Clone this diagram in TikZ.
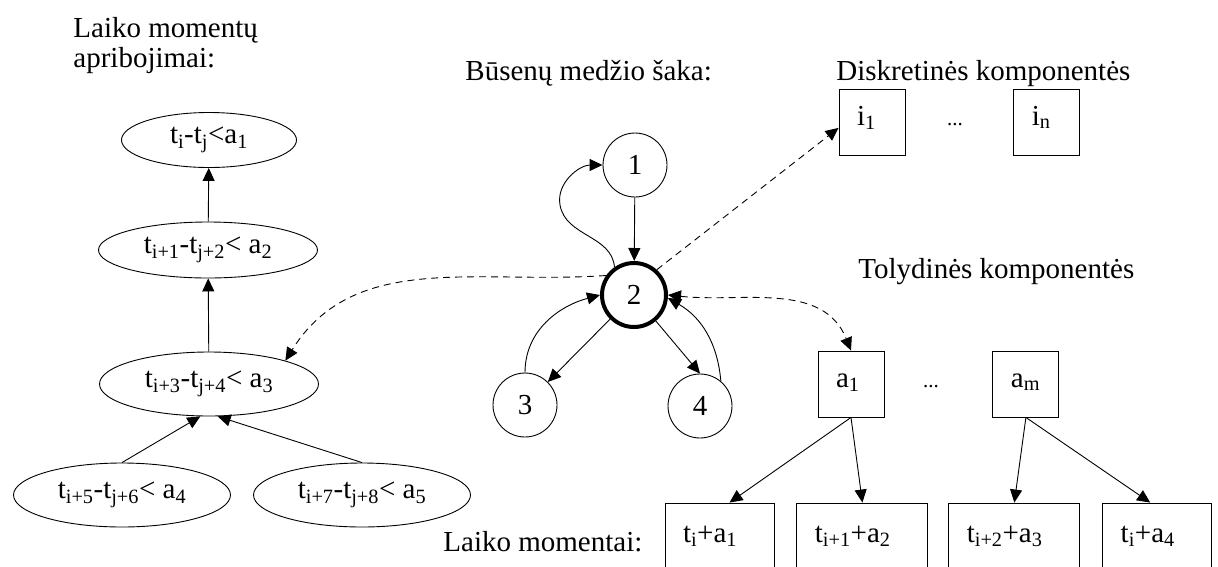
\documentclass[tikz,border=0pt]{standalone}
\usepackage{fontspec}
\setmainfont{Liberation Serif}
\usepackage{tikz}
\usetikzlibrary{positioning,arrows.meta,shapes.geometric,calc}

\begin{document}
\begin{tikzpicture}[
    x=1pt, y=1pt, line width=0.9pt,
    >={Triangle[length=13pt,width=12pt]},
    every node/.style={font=\fontsize{29}{30}\selectfont},
    heading/.style={inner sep=0pt, anchor=base west},
    cond/.style={ellipse, draw, inner sep=2pt, minimum width=219pt, minimum height=64pt},
    state/.style={circle, draw, inner sep=0pt, minimum size=64pt},
    comp/.style={rectangle, draw, inner xsep=18pt, inner ysep=0pt, text width=30pt,
                 text height=36pt, text depth=30pt, align=left},
    moment/.style={comp, text height=39pt, text depth=41pt},
    dots/.style={inner sep=0pt, anchor=base, font=\fontsize{21}{24}\selectfont},
    link/.style={dash pattern=on 7pt off 5pt}
]
    \useasboundingbox (0,0) rectangle (1218,-566);
    \clip (0,0) rectangle (1218,-566);

    \node[heading, align=left, anchor=north west] (tLimits) at (73,-17) {Laiko momentų\\apribojimai:};
    \node[heading] (tBranch) at (465,-80) {Būsenų medžio šaka:};
    \node[heading] (tDisc) at (836,-80) {Diskretinės komponentės};
    \node[heading] (tCont) at (858,-278) {Tolydinės komponentės};
    \node[heading] (tMom) at (443,-551) {Laiko momentai:};

    \node[cond, minimum width=175pt, minimum height=55pt] (lim1) at (209,-140)
        {t\textsubscript{i}-t\textsubscript{j}<a\textsubscript{1}};
    \node[cond, minimum height=56pt] (lim2) at (208,-250)
        {t\textsubscript{i+1}-t\textsubscript{j+2}< a\textsubscript{2}};
    \node[cond] (lim3) at (209,-384)
        {t\textsubscript{i+3}-t\textsubscript{j+4}< a\textsubscript{3}};
    \node[cond, minimum width=217pt] (lim4) at (122,-495)
        {t\textsubscript{i+5}-t\textsubscript{j+6}< a\textsubscript{4}};
    \node[cond, minimum width=217pt] (lim5) at (362,-495)
        {t\textsubscript{i+7}-t\textsubscript{j+8}< a\textsubscript{5}};

    \draw[->] (lim2) -- (lim1);
    \draw[->] (lim3) -- (lim2);
    \draw[->] (lim4.north) -- (lim3.255);
    \draw[->] (lim5.north) -- (lim3.285);

    \node[state] (s1) at (635,-165) {1};
    \node[state, line width=4pt] (s2) at (634,-295) {2};
    \node[state] (s3) at (525,-405) {3};
    \node[state] (s4) at (700,-406) {4};
    \coordinate (loop1) at (560,-205);

    \draw[->] (s1) -- (s2);
    \draw[->] (s2.125) to[out=95,in=-80] (loop1) to[out=100,in=180] (s1.west);
    \draw[->] (s2) -- (s3);
    \draw[->] (s2) -- (s4.north);
    \draw[->] (s3.north) to[out=90,in=195] (s2.west);
    \draw[->] (s4.50) to[out=95,in=-30] (s2.-5);

    \node[comp] (i1) at (872,-122) {i\textsubscript{1}};
    \node[comp, right=108pt of i1] (in) {i\textsubscript{n}};
    \node[dots] (dotsI) at (955,-125) {...};

    \node[comp] (a1) at (851,-384) {a\textsubscript{1}};
    \node[comp, right=108pt of a1] (am) {a\textsubscript{m}};
    \node[dots] (dotsA) at (931,-387) {...};

    \node[moment, text width=73pt] (m1) at (719.5,-543) {t\textsubscript{i}+a\textsubscript{1}};
    \node[moment, text width=95pt, right=22pt of m1] (m2) {t\textsubscript{i+1}+a\textsubscript{2}};
    \node[moment, text width=95pt, right=20pt of m2] (m3) {t\textsubscript{i+2}+a\textsubscript{3}};
    \node[moment, text width=73pt, right=22pt of m3] (m4) {t\textsubscript{i}+a\textsubscript{4}};

    \draw[->] (a1.south) -- ($(m1.north)+(10,0)$);
    \draw[->] (a1.south) -- (m2.north);
    \draw[->] (am.south) -- (m3.north);
    \draw[->] (am.south) -- ($(m4.north)+(-7,0)$);

    \draw[->, link] (s2.145) to[out=184,in=58] (lim3.17);
    \draw[->, link] (s2.48) -- (i1.190);
    \draw[<->, link] (s2.east) to[out=-6,in=112] (a1.north);
\end{tikzpicture}
\end{document}
